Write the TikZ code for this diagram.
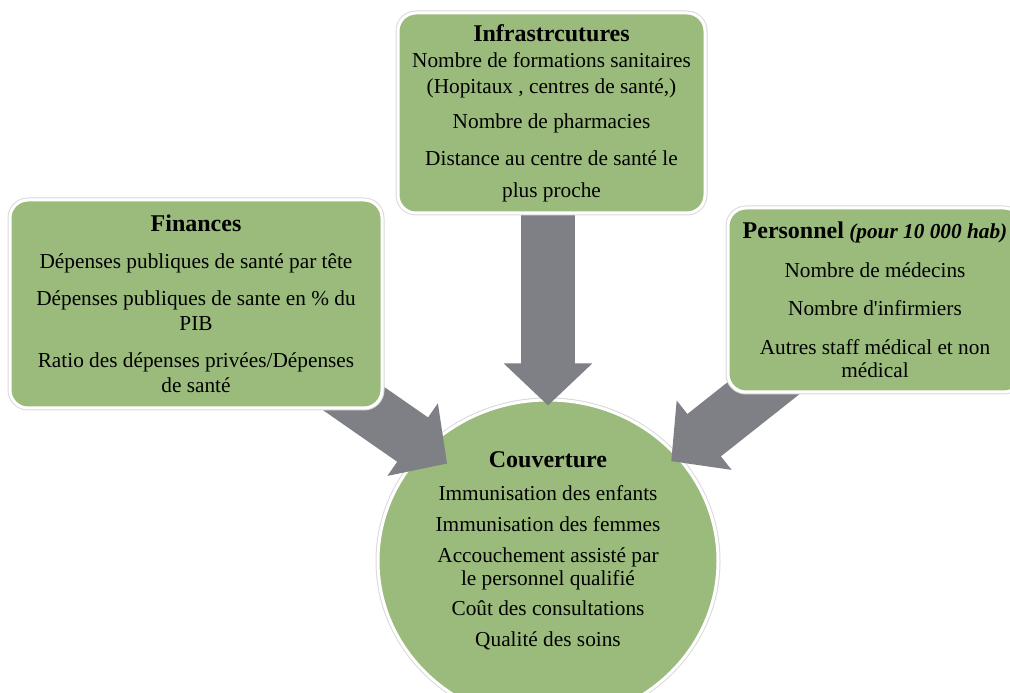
\documentclass[tikz,border=0pt]{standalone}
\usepackage{fontspec}
\setmainfont{Liberation Serif}
\usetikzlibrary{positioning,calc,arrows.meta,shapes.geometric}
\definecolor{vertbox}{RGB}{155,187,124}
\definecolor{grisfleche}{RGB}{127,128,133}
\newcommand{\titre}[1]{{\fontsize{24}{23.5}\selectfont\bfseries #1}}
\pgfdeclarelayer{fond}
\pgfdeclarelayer{fleches}
\pgfsetlayers{fond,fleches,main}

\begin{document}
\begin{tikzpicture}[
x=1pt,y=1pt,
every node/.style={font=\fontsize{21.3}{23.5}\selectfont, align=center, inner sep=0pt},
vert/.style={fill=vertbox, draw=white, line width=3pt, preaction={draw=black!15, line width=5pt}},
box/.style={vert, rectangle, rounded corners=18pt},
bigarrow/.style={draw=grisfleche, line width=54pt, -{Triangle[width=86pt,length=42pt]}},
]
\useasboundingbox (0,0) rectangle (1010,693);

\begin{pgfonlayer}{fond}
	\node[vert, ellipse, minimum width=340pt, minimum height=322pt] (couv) at (548,132) {};
\end{pgfonlayer}
\node (couvtxt) at ([yshift=10pt]couv.center) {\titre{Couverture}\\[9pt]
	Immunisation des enfants\\[8pt]
	Immunisation des femmes\\[7.5pt]
	Accouchement assisté par\\[-1pt]
	le personnel qualifié\\[6.5pt]
	Coût des consultations\\[8pt]
	Qualité des soins};

\node[box, minimum width=307pt, minimum height=200pt] (infra) at (551.5,580) {\titre{Infrastrcutures}\\[3pt]
	Nombre de formations sanitaires\\[2.5pt]
	(Hopitaux , centres de santé,)\\[11pt]
	Nombre de pharmacies\\[14pt]
	Distance au centre de santé le\\[8pt]
	plus proche};

\node[box, minimum width=372pt, minimum height=208pt] (fin) at (196,389) {\titre{Finances}\\[13pt]
	Dépenses publiques de santé par tête\\[14pt]
	Dépenses publiques de sante en \% du\\[1pt]
	PIB\\[14pt]
	Ratio des dépenses privées/Dépenses\\[1.5pt]
	de santé};

\node[box, minimum width=294pt, minimum height=184pt] (pers) at (875,393) {\titre{Personnel} {\bfseries\itshape (pour 10 000 hab)}\\[15.5pt]
	Nombre de médecins\\[15pt]
	Nombre d\textquotesingle infirmiers\\[15pt]
	Autres staff médical et non\\
	médical};

% fleches vers la couverture
\begin{pgfonlayer}{fleches}
	\draw[bigarrow] (couv.north |- infra.center) -- ([yshift=-7pt]couv.north);
	\draw[bigarrow] ([yshift=15pt]fin.center) -- ($(couv.center)!0.84!(couv.136)$);
	\draw[bigarrow] (pers.center) -- ($(couv.center)!0.945!(couv.39)$);
\end{pgfonlayer}
\end{tikzpicture}
\end{document}
